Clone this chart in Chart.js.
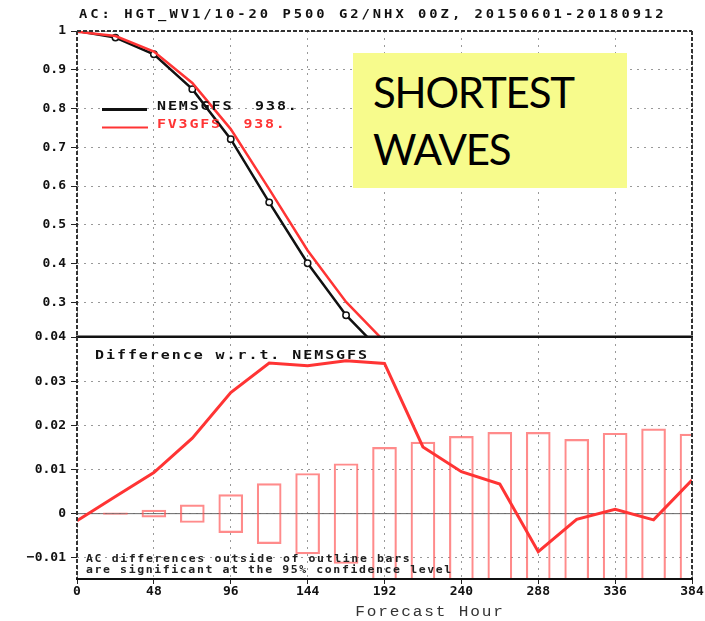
<!DOCTYPE html>
<html>
<head>
<meta charset="utf-8">
<script src="https://cdn.jsdelivr.net/npm/chart.js@4"></script>
<style>
  body { margin: 0; background: #fff; }
  #wrap { position: relative; width: 705px; height: 621px; background: #fff; overflow: hidden; }
  #topChart { position: absolute; left: 0; top: 0; }
  #botChart { position: absolute; left: 0; top: 320px; }
  #note {
    position: absolute; left: 353px; top: 53px; width: 254px; height: 124.5px;
    padding: 10.5px 0 0 20px; background: #f7fb8c;
    font-family: Lato, "Open Sans", sans-serif; font-size: 42px; line-height: 57px;
    letter-spacing: -1.2px; color: #000;
  }
</style>
</head>
<body>
<div id="wrap">
  <canvas id="topChart" width="705" height="342"></canvas>
  <canvas id="botChart" width="705" height="301"></canvas>
  <div id="note">SHORTEST<br>WAVES</div>
</div>
<script>
// forecast hours
const HOURS = [0, 24, 48, 72, 96, 120, 144, 168, 192, 216, 240, 264, 288, 312, 336, 360, 384];
// anomaly correlation, hours 0..192 (rest is below the panel)
const NEMS_AC = [1.0, 0.983, 0.940, 0.850, 0.721, 0.558, 0.401, 0.267, 0.165];
const FV3_AC = [0.998, 0.987, 0.947, 0.866, 0.747, 0.592, 0.434, 0.301, 0.199];
// FV3GFS minus NEMSGFS
const AC_DIFF = [-0.0016, 0.0039, 0.0093, 0.0171, 0.0274, 0.0341, 0.0335, 0.0346, 0.0340,
  0.0151, 0.0095, 0.0067, -0.0086, -0.0013, 0.0010, -0.0014, 0.0076];
// 95% significance half-widths, hours 24..384
const SIG_BAR = [0.0002, 0.0008, 0.0020, 0.0043, 0.0068, 0.0091, 0.0113, 0.0150,
  0.0162, 0.0175, 0.0184, 0.0184, 0.0168, 0.0182, 0.0192, 0.0180];
const X_TICKS = [0, 48, 96, 144, 192, 240, 288, 336, 384];
const TOP_Y_TICKS = [0.3, 0.4, 0.5, 0.6, 0.7, 0.8, 0.9, 1];
const BOT_Y_TICKS = [-0.01, 0, 0.01, 0.02, 0.03, 0.04];

const MONO = '"DejaVu Sans Mono", "Liberation Mono", monospace';
const MONO2 = '"Liberation Mono", "DejaVu Sans Mono", monospace';
const RED = '#ff3434';
const BAR_RED = 'rgba(255, 90, 90, 0.7)';

// GrADS style text: wide, spaced letters
function wideText(ctx, str, x, y, font, color, pitch, align) {
  ctx.save();
  ctx.font = font;
  ctx.fillStyle = color;
  ctx.textBaseline = 'middle';
  ctx.textAlign = 'left';
  const sx = 1.15;
  const adv = ctx.measureText('M').width;
  ctx.letterSpacing = (pitch / sx - adv) + 'px';
  const w = ctx.measureText(str).width * sx;
  const x0 = align === 'center' ? x - w / 2 : x;
  ctx.translate(x0, y);
  ctx.scale(sx, 1);
  ctx.fillText(str, 0, 0);
  ctx.restore();
}

function line(ctx, x1, y1, x2, y2, color, width, dash) {
  ctx.save();
  ctx.strokeStyle = color;
  ctx.lineWidth = width;
  ctx.setLineDash(dash || []);
  ctx.beginPath();
  ctx.moveTo(x1, y1);
  ctx.lineTo(x2, y2);
  ctx.stroke();
  ctx.restore();
}

const gridOpts = {
  color: '#999',
  tickColor: '#222',
  tickBorderDash: [],
  tickLength: 6
};
// dotted grid lines (v4 reads the dash from border options)
const borderOpts = { display: false, dash: [2, 5] };

function xScale(showLabels) {
  return {
    type: 'linear',
    min: 0,
    max: 384,
    offset: false,
    border: borderOpts,
    grid: Object.assign({}, gridOpts, { offset: false, drawTicks: showLabels, tickLength: 5 }),
    afterBuildTicks: s => { s.ticks = X_TICKS.map(v => ({ value: v })); },
    afterFit: s => { s.height = showLabels ? 42 : 0; },
    ticks: {
      display: showLabels,
      padding: 0,
      maxRotation: 0,
      color: '#111',
      font: { family: MONO, size: 13, weight: 'bold' }
    }
  };
}

function yFit(s) {
  s.width = 77;
  s.paddingTop = 0;
  s.paddingBottom = 0;
}

const topPlugin = {
  id: 'topDecor',
  afterDraw(chart) {
    const ctx = chart.ctx;
    const a = chart.chartArea;
    line(ctx, a.left, a.top, a.right, a.top, '#333', 2, [4, 2]);
    line(ctx, a.left, a.top, a.left, a.bottom, '#333', 2, [4, 2]);
    line(ctx, a.right, a.top, a.right, a.bottom, '#333', 2, [4, 2]);
    line(ctx, a.left - 1, a.bottom, a.right + 1, a.bottom, '#111', 2);
    wideText(ctx, 'AC: HGT_WV1/10-20 P500 G2/NHX 00Z, 20150601-20180912',
      79, 15, 'bold 12px ' + MONO, '#111', 11.3);
    // legend
    line(ctx, 102, 109.5, 147, 109.5, '#111', 3);
    wideText(ctx, 'NEMSGFS  938.', 157, 106.5, 'bold 13px ' + MONO, '#111', 10.9);
    line(ctx, 102, 127.5, 148, 127.5, RED, 2.2);
    wideText(ctx, 'FV3GFS  938.', 157, 125, 'bold 13px ' + MONO, RED, 10.8);
  }
};

const botPlugin = {
  id: 'botDecor',
  beforeDatasetsDraw(chart) {
    const ctx = chart.ctx;
    const a = chart.chartArea;
    const y0 = chart.scales.y.getPixelForValue(0);
    line(ctx, a.left, y0, a.right, y0, '#666', 1);
  },
  afterDraw(chart) {
    const ctx = chart.ctx;
    const a = chart.chartArea;
    line(ctx, a.left - 1, a.top, a.right + 1, a.top, '#111', 2);
    line(ctx, a.left, a.top, a.left, a.bottom, '#333', 2, [4, 2]);
    line(ctx, a.right, a.top, a.right, a.bottom, '#333', 2, [4, 2]);
    line(ctx, a.left - 1, a.bottom, a.right + 1, a.bottom, '#111', 2);
    wideText(ctx, 'Difference w.r.t. NEMSGFS', 95, a.top + 19, 'bold 13px ' + MONO, '#111', 10.96);
    wideText(ctx, 'AC differences outside of outline bars', 86, a.top + 222,
      'bold 10px ' + MONO, '#222', 8.56);
    wideText(ctx, 'are significant at the 95% confidence level', 86, a.top + 233.7,
      'bold 10px ' + MONO, '#222', 8.53);
    wideText(ctx, 'Forecast Hour', 430, a.bottom + 33.7, '14px ' + MONO2, '#333', 11.5, 'center');
  }
};

new Chart(document.getElementById('topChart'), {
  type: 'line',
  data: {
    datasets: [
      {
        label: 'FV3GFS',
        data: FV3_AC.map((v, i) => ({ x: HOURS[i], y: v })),
        borderColor: RED,
        borderWidth: 2.5,
        pointRadius: 0,
        tension: 0
      },
      {
        label: 'NEMSGFS',
        data: NEMS_AC.map((v, i) => ({ x: HOURS[i], y: v })),
        borderColor: '#111',
        borderWidth: 2.5,
        pointRadius: c => (c.dataIndex === 0 ? 0 : 3.2),
        pointBorderWidth: 1.5,
        pointBorderColor: '#111',
        pointBackgroundColor: '#fff',
        tension: 0
      }
    ]
  },
  options: {
    responsive: false,
    animation: false,
    layout: { padding: { top: 31, right: 13, bottom: 1, left: 0 } },
    plugins: { legend: { display: false }, tooltip: { enabled: false } },
    scales: {
      x: xScale(false),
      y: {
        min: 0.212,
        max: 1,
        border: borderOpts,
        grid: gridOpts,
        afterBuildTicks: s => { s.ticks = TOP_Y_TICKS.map(v => ({ value: v })); },
        afterFit: yFit,
        ticks: {
          padding: 5,
          color: '#111',
          font: { family: MONO, size: 13, weight: 'bold' },
          callback: v => (v === 1 ? '1' : v.toFixed(1))
        }
      }
    }
  },
  plugins: [topPlugin]
});

new Chart(document.getElementById('botChart'), {
  data: {
    datasets: [
      {
        type: 'line',
        label: 'FV3GFS - NEMSGFS',
        data: AC_DIFF.map((v, i) => ({ x: HOURS[i], y: v })),
        borderColor: RED,
        borderWidth: 3,
        pointRadius: 0,
        tension: 0
      },
      {
        type: 'bar',
        label: '95% significance',
        data: SIG_BAR.map((v, i) => ({ x: HOURS[i + 1], y: [-v, v] })),
        backgroundColor: 'rgba(0,0,0,0)',
        borderColor: BAR_RED,
        borderWidth: 1.5,
        borderSkipped: false,
        barThickness: 24
      }
    ]
  },
  options: {
    responsive: false,
    animation: false,
    layout: { padding: { top: 17, right: 13, bottom: 0, left: 0 } },
    plugins: { legend: { display: false }, tooltip: { enabled: false } },
    scales: {
      x: xScale(true),
      y: {
        min: -0.0148,
        max: 0.04,
        border: borderOpts,
        grid: gridOpts,
        afterBuildTicks: s => { s.ticks = BOT_Y_TICKS.map(v => ({ value: v })); },
        afterFit: yFit,
        ticks: {
          padding: 5,
          color: '#111',
          font: { family: MONO, size: 13, weight: 'bold' },
          callback: v => (Math.abs(v) < 1e-9 ? '0' : (v < 0 ? '\u2212' : '') + Math.abs(v).toFixed(2))
        }
      }
    }
  },
  plugins: [botPlugin]
});
</script>
</body>
</html>
